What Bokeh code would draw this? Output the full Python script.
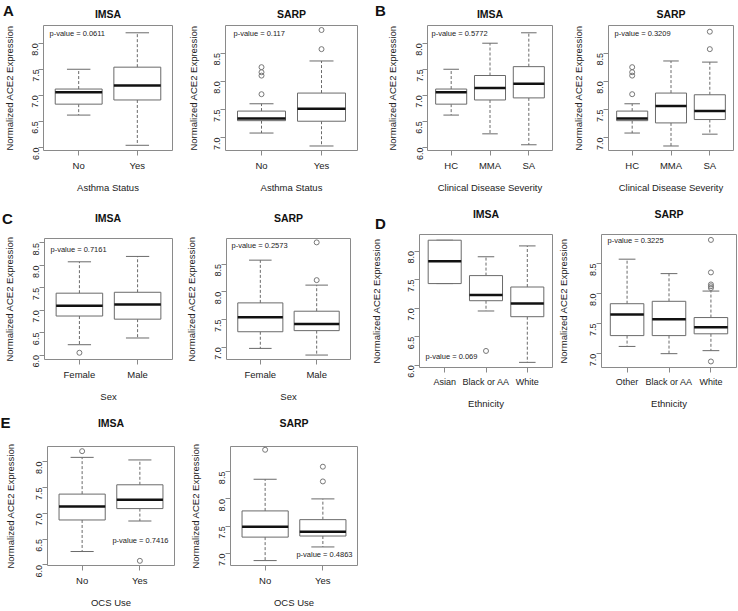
import math
from bokeh.plotting import figure
from bokeh.models import Label, FixedTicker, Range1d, Spacer, NumeralTickFormatter, ColumnDataSource
from bokeh.core.properties import value
from bokeh.layouts import row, column
from bokeh.embed import file_html
from bokeh.resources import INLINE

# ---------------- data ----------------
yticks = [6.0, 6.5, 7.0, 7.5, 8.0, 8.5, 9.0]

asthma_cats = ["No", "Yes"]
a_imsa_lw = [6.62, 6.04]
a_imsa_q1 = [6.83, 6.91]
a_imsa_med = [7.06, 7.19]
a_imsa_q3 = [7.12, 7.54]
a_imsa_uw = [7.50, 8.20]
a_imsa_out_cat = []
a_imsa_out_val = []

a_sarp_lw = [7.08, 6.85]
a_sarp_q1 = [7.30, 7.29]
a_sarp_med = [7.34, 7.51]
a_sarp_q3 = [7.47, 7.79]
a_sarp_uw = [7.60, 8.36]
a_sarp_out_cat = ["No", "No", "No", "No", "Yes", "Yes"]
a_sarp_out_val = [7.77, 8.10, 8.16, 8.25, 8.57, 8.91]

severity_cats = ["HC", "MMA", "SA"]
b_imsa_lw = [6.62, 6.26, 6.05]
b_imsa_q1 = [6.83, 6.91, 6.95]
b_imsa_med = [7.06, 7.14, 7.22]
b_imsa_q3 = [7.12, 7.38, 7.55]
b_imsa_uw = [7.50, 8.00, 8.20]
b_imsa_out_cat = []
b_imsa_out_val = []

b_sarp_lw = [7.08, 6.85, 7.06]
b_sarp_q1 = [7.30, 7.26, 7.32]
b_sarp_med = [7.34, 7.56, 7.47]
b_sarp_q3 = [7.47, 7.79, 7.76]
b_sarp_uw = [7.60, 8.36, 8.34]
b_sarp_out_cat = ["HC", "HC", "HC", "HC", "SA", "SA"]
b_sarp_out_val = [7.77, 8.10, 8.16, 8.25, 8.57, 8.88]

sex_cats = ["Female", "Male"]
c_imsa_lw = [6.23, 6.38]
c_imsa_q1 = [6.87, 6.80]
c_imsa_med = [7.10, 7.13]
c_imsa_q3 = [7.38, 7.40]
c_imsa_uw = [8.08, 8.20]
c_imsa_out_cat = ["Female"]
c_imsa_out_val = [6.05]

c_sarp_lw = [6.98, 6.86]
c_sarp_q1 = [7.28, 7.30]
c_sarp_med = [7.54, 7.42]
c_sarp_q3 = [7.80, 7.65]
c_sarp_uw = [8.57, 8.12]
c_sarp_out_cat = ["Male", "Male"]
c_sarp_out_val = [8.21, 8.89]

eth_imsa_cats = ["Asian", "Black or AA", "White"]
d_imsa_lw = [7.43, 6.95, 6.05]
d_imsa_q1 = [7.43, 7.13, 6.85]
d_imsa_med = [7.82, 7.23, 7.08]
d_imsa_q3 = [8.19, 7.57, 7.37]
d_imsa_uw = [8.19, 7.90, 8.09]
d_imsa_out_cat = ["Black or AA"]
d_imsa_out_val = [6.25]

eth_sarp_cats = ["Other", "Black or AA", "White"]
d_sarp_lw = [7.12, 7.00, 7.05]
d_sarp_q1 = [7.30, 7.30, 7.33]
d_sarp_med = [7.65, 7.57, 7.44]
d_sarp_q3 = [7.83, 7.87, 7.60]
d_sarp_uw = [8.57, 8.33, 8.04]
d_sarp_out_cat = ["White"] * 6
d_sarp_out_val = [8.89, 8.35, 8.15, 8.12, 8.09, 6.87]

ocs_cats = ["No", "Yes"]
e_imsa_lw = [6.26, 6.85]
e_imsa_q1 = [6.87, 7.09]
e_imsa_med = [7.13, 7.26]
e_imsa_q3 = [7.37, 7.55]
e_imsa_uw = [8.08, 8.03]
e_imsa_out_cat = ["No", "Yes"]
e_imsa_out_val = [8.20, 6.08]

e_sarp_lw = [6.87, 7.12]
e_sarp_q1 = [7.30, 7.32]
e_sarp_med = [7.49, 7.40]
e_sarp_q3 = [7.78, 7.62]
e_sarp_uw = [8.36, 8.00]
e_sarp_out_cat = ["No", "Yes", "Yes"]
e_sarp_out_val = [8.90, 8.32, 8.59]

# ---------------- styling / layout helpers ----------------
FONT = "Liberation Sans"
TXT = "#222222"
BOXC = "#6a6a6a"
FRAMEC = "#8a8a8a"


def no_align(fig):
    try:
        fig.frame_align = False
    except Exception:
        pass


def make_panel(cats, lw, q1, med, q3, uw, out_cat, out_val, ylim, xlabel,
               pval, pcorner, pdx, pdy, fig_x, frame_x, panel_y, frame_y, ylab_standoff=12,
               xfont="9.5px"):
    W = fig_x[1] - fig_x[0]
    H = panel_y[1] - panel_y[0]
    bl = frame_x[0] - fig_x[0]
    br = fig_x[1] - frame_x[1]
    bt = frame_y[0] - panel_y[0]
    bb = panel_y[1] - frame_y[1]
    fw = W - bl - br
    fh = H - bt - bb
    n = len(cats)
    xs = [i + 1 for i in range(n)]
    xr = (0.4, n + 0.6) if n == 2 else (0.39, n + 0.61)
    p = figure(width=W, height=H, x_range=Range1d(*xr), y_range=Range1d(*ylim),
               output_backend="svg", toolbar_location=None, title=None,
               min_border_left=bl, min_border_right=br,
               min_border_top=bt, min_border_bottom=bb)
    no_align(p)
    p.grid.visible = False
    p.outline_line_color = FRAMEC
    p.outline_line_width = 1
    p.background_fill_color = "white"
    p.border_fill_color = "white"

    for ax in (p.xaxis[0], p.yaxis[0]):
        ax.axis_line_color = None
        ax.major_tick_out = 5
        ax.major_tick_in = 0
        ax.minor_tick_line_color = None
        ax.major_tick_line_color = FRAMEC
        ax.major_label_text_font = FONT
        ax.major_label_text_color = TXT
        ax.axis_label_text_font = FONT
        ax.axis_label_text_font_style = "normal"
        ax.axis_label_text_font_size = "9.5px"
        ax.axis_label_text_color = TXT
    p.xaxis.ticker = FixedTicker(ticks=xs)
    p.xaxis.major_label_overrides = {x: c for x, c in zip(xs, cats)}
    p.xaxis.major_label_text_font_size = xfont
    p.xaxis.major_label_standoff = 4
    p.xaxis.axis_label = xlabel
    p.xaxis.axis_label_standoff = 8
    p.yaxis.ticker = FixedTicker(ticks=yticks)
    p.yaxis.formatter = NumeralTickFormatter(format="0.0")
    p.yaxis.major_label_text_font_size = "9px"
    p.yaxis.major_label_orientation = math.pi / 2
    p.yaxis.major_label_standoff = 3
    p.yaxis.axis_label = "Normalized ACE2 Expression"
    p.yaxis.axis_label_standoff = ylab_standoff

    src = ColumnDataSource(dict(
        x=xs, lw=lw, q1=q1, med=med, q3=q3, uw=uw,
        xl=[x - 0.4 for x in xs], xh=[x + 0.4 for x in xs],
        cl=[x - 0.2 for x in xs], ch=[x + 0.2 for x in xs]))
    p.segment(x0="x", y0="q3", x1="x", y1="uw", source=src, line_color=BOXC,
              line_width=1, line_dash="3 2")
    p.segment(x0="x", y0="q1", x1="x", y1="lw", source=src, line_color=BOXC,
              line_width=1, line_dash="3 2")
    p.segment(x0="cl", y0="uw", x1="ch", y1="uw", source=src, line_color=BOXC, line_width=1)
    p.segment(x0="cl", y0="lw", x1="ch", y1="lw", source=src, line_color=BOXC, line_width=1)
    p.vbar(x="x", width=0.8, bottom="q1", top="q3", source=src, fill_color="white",
           line_color=BOXC, line_width=1)
    p.segment(x0="xl", y0="med", x1="xh", y1="med", source=src, line_color="#111111",
              line_width=2.5)
    if out_val:
        ox = [cats.index(c) + 1 for c in out_cat]
        p.scatter(x=ox, y=out_val, marker="circle", size=5, fill_color=None,
                  line_color="#777777", line_width=1)

    if pcorner == "tl":
        lab = Label(x=pdx, y=fh - pdy, text_align="left")
    elif pcorner == "bl":
        lab = Label(x=pdx, y=pdy, text_align="left")
    else:
        lab = Label(x=fw - pdx, y=pdy, text_align="right")
    lab.x_units = "screen"
    lab.y_units = "screen"
    lab.text = pval
    lab.text_baseline = "middle"
    lab.text_font = FONT
    lab.text_font_size = "7.5px"
    lab.text_color = TXT
    p.add_layout(lab)
    return p


def make_strip(x_span, y_span, titles, letters):
    """Header strip holding panel letters and panel titles (pixel coordinates)."""
    W = x_span[1] - x_span[0]
    H = y_span[1] - y_span[0]
    s = figure(width=W, height=H, x_range=Range1d(x_span[0], x_span[1]),
               y_range=Range1d(y_span[1], y_span[0]), output_backend="svg",
               toolbar_location=None, title=None, min_border=0,
               x_axis_location=None, y_axis_location=None)
    no_align(s)
    s.grid.visible = False
    s.outline_line_color = None
    s.background_fill_color = "white"
    s.border_fill_color = "white"
    s.text(x=[t[1] for t in titles], y=[t[2] for t in titles], text=[t[0] for t in titles],
           text_font=value(FONT), text_font_style="bold", text_font_size="10.5px",
           text_align="center", text_baseline="middle", text_color="#111111")
    s.text(x=[t[1] for t in letters], y=[t[2] for t in letters], text=[t[0] for t in letters],
           text_font=value(FONT), text_font_style="bold", text_font_size="15px",
           text_align="center", text_baseline="middle", text_color="#111111")
    return s


def cx(frame_x):
    return (frame_x[0] + frame_x[1]) / 2


# frames (reference pixel geometry)
FA1, FA2, FB1, FB2 = (43, 172), (225, 357), (427, 552), (608, 733)
FC1, FC2, FD1, FD2 = (43, 172), (226, 350), (419, 552), (601, 736)
FE1, FE2 = (47, 174), (230, 357)
XW = [(0, 180), (180, 366), (366, 553), (553, 737)]
TOTAL_W = 737

strip1 = make_strip((0, TOTAL_W), (0, 23),
                    [("IMSA", cx(FA1), 13), ("SARP", cx(FA2), 13),
                     ("IMSA", cx(FB1), 13), ("SARP", cx(FB2), 13)],
                    [("A", 8, 10), ("B", 380, 10)])
P1 = (23, 200)
pA1 = make_panel(asthma_cats, a_imsa_lw, a_imsa_q1, a_imsa_med, a_imsa_q3, a_imsa_uw,
                 a_imsa_out_cat, a_imsa_out_val, (5.94, 8.34), "Asthma Status",
                 "p-value = 0.0611", "tl", 6, 8, XW[0], FA1, P1, (25, 150), 12)
pA2 = make_panel(asthma_cats, a_sarp_lw, a_sarp_q1, a_sarp_med, a_sarp_q3, a_sarp_uw,
                 a_sarp_out_cat, a_sarp_out_val, (6.77, 8.99), "Asthma Status",
                 "p-value = 0.117", "tl", 8, 8, XW[1], FA2, P1, (25, 150), 10)
pB1 = make_panel(severity_cats, b_imsa_lw, b_imsa_q1, b_imsa_med, b_imsa_q3, b_imsa_uw,
                 b_imsa_out_cat, b_imsa_out_val, (5.94, 8.34), "Clinical Disease Severity",
                 "p-value = 0.5772", "tl", 4, 8, XW[2], FB1, P1, (25, 150), 13)
pB2 = make_panel(severity_cats, b_sarp_lw, b_sarp_q1, b_sarp_med, b_sarp_q3, b_sarp_uw,
                 b_sarp_out_cat, b_sarp_out_val, (6.77, 8.99), "Clinical Disease Severity",
                 "p-value = 0.3209", "tl", 6, 8, XW[3], FB2, P1, (25, 150), 8)

strip2 = make_strip((0, TOTAL_W), (200, 233),
                    [("IMSA", cx(FC1), 217), ("SARP", cx(FC2), 217),
                     ("IMSA", cx(FD1), 213), ("SARP", cx(FD2), 213)],
                    [("C", 7, 218), ("D", 380, 223)])
P2 = (233, 412)
pC1 = make_panel(sex_cats, c_imsa_lw, c_imsa_q1, c_imsa_med, c_imsa_q3, c_imsa_uw,
                 c_imsa_out_cat, c_imsa_out_val, (5.9, 8.6), "Sex",
                 "p-value = 0.7161", "tl", 6, 11, XW[0], FC1, P2, (238, 359), 13)
pC2 = make_panel(sex_cats, c_sarp_lw, c_sarp_q1, c_sarp_med, c_sarp_q3, c_sarp_uw,
                 c_sarp_out_cat, c_sarp_out_val, (6.78, 8.96), "Sex",
                 "p-value = 0.2573", "tl", 5, 7, XW[1], FC2, P2, (238, 359), 13)
pD1 = make_panel(eth_imsa_cats, d_imsa_lw, d_imsa_q1, d_imsa_med, d_imsa_q3, d_imsa_uw,
                 d_imsa_out_cat, d_imsa_out_val, (5.96, 8.29), "Ethnicity",
                 "p-value = 0.069", "bl", 6, 11, XW[2], FD1, P2, (234, 367), 21, "9px")
pD2 = make_panel(eth_sarp_cats, d_sarp_lw, d_sarp_q1, d_sarp_med, d_sarp_q3, d_sarp_uw,
                 d_sarp_out_cat, d_sarp_out_val, (6.77, 8.98), "Ethnicity",
                 "p-value = 0.3225", "tl", 6, 6, XW[3], FD2, P2, (234, 367), 16, "9px")

strip3 = make_strip((0, TOTAL_W), (412, 444),
                    [("IMSA", cx(FE1), 422), ("SARP", cx(FE2), 422)],
                    [("E", 5, 422)])
P3 = (444, 610)
pE1 = make_panel(ocs_cats, e_imsa_lw, e_imsa_q1, e_imsa_med, e_imsa_q3, e_imsa_uw,
                 e_imsa_out_cat, e_imsa_out_val, (5.99, 8.29), "OCS Use",
                 "p-value = 0.7416", "br", 6, 25, XW[0], FE1, P3, (446, 565), 15)
pE2 = make_panel(ocs_cats, e_sarp_lw, e_sarp_q1, e_sarp_med, e_sarp_q3, e_sarp_uw,
                 e_sarp_out_cat, e_sarp_out_val, (6.78, 8.96), "OCS Use",
                 "p-value = 0.4863", "br", 5, 11, XW[1], FE2, P3, (446, 565), 13)

row1 = row(pA1, pA2, pB1, pB2, spacing=0)
row2 = row(pC1, pC2, pD1, pD2, spacing=0)
row3 = row(pE1, pE2, Spacer(width=TOTAL_W - XW[1][1], height=P3[1] - P3[0]), spacing=0)
layout = column(strip1, row1, strip2, row2, strip3, row3, spacing=0)

open("out.html", "w").write(file_html(layout, INLINE))
